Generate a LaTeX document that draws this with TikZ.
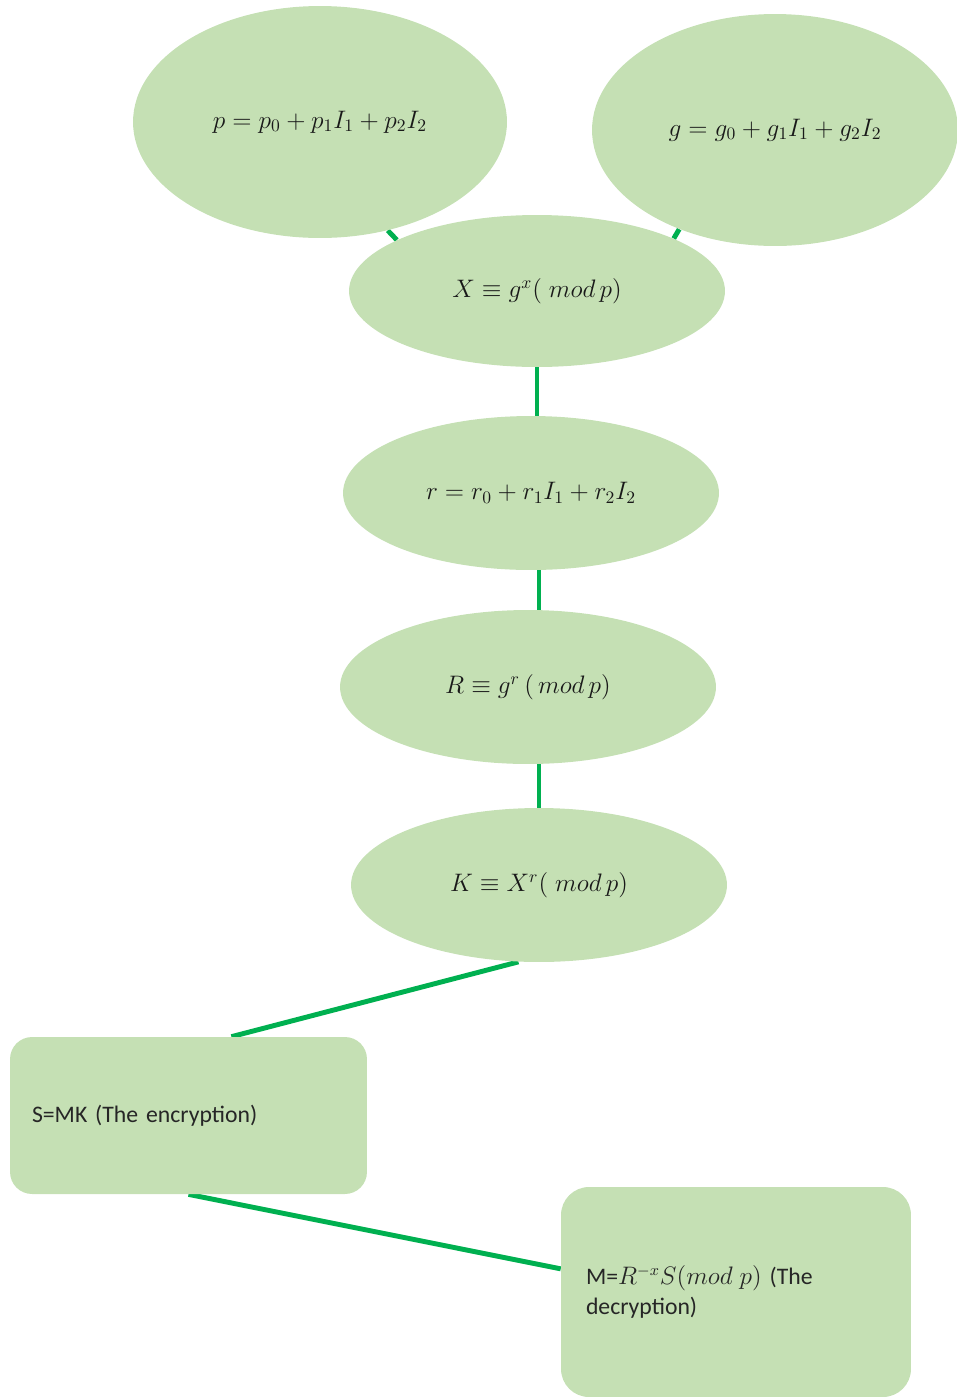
\documentclass[tikz,border=0pt]{standalone}
\usepackage{fontspec}
\setmainfont{Carlito}
\usepackage{xcolor}
\usetikzlibrary{shapes.geometric, calc, backgrounds}
\definecolor{leaf}{RGB}{197,224,180}
\definecolor{wire}{RGB}{0,176,80}
\tikzset{
  oval/.style  ={ellipse, fill=leaf, inner sep=0pt, text=black!90,
                 font=\fontsize{14.5}{18}\selectfont},
  card/.style  ={rectangle, fill=leaf, inner sep=0pt, align=left,
                 text=black!85, font=\fontsize{13.5}{17.5}\selectfont},
  link/.style  ={draw=wire, line width=2.8pt}
}

\begin{document}
\begin{tikzpicture}[x=0.02cm, y=-0.02cm]
\useasboundingbox (0,0) rectangle (957,1397);

% Parameters (top)
\node[oval, minimum width=7.48cm, minimum height=4.64cm] (pbase) at (320,122)
     {$p = p_0 + p_1 I_1 + p_2 I_2$};
\node[oval, minimum width=7.32cm, minimum height=4.64cm] (gbase) at (775,130)
     {$g = g_0 + g_1 I_1 + g_2 I_2$};

% Key chain
\node[oval, minimum width=7.52cm, minimum height=3.04cm] (pubx) at (537,291)
     {$X \equiv g^{x}(\;mod\,p)$};
\node[oval, minimum width=7.52cm, minimum height=3.08cm] (rexp) at (531,493)
     {$r = r_0 + r_1 I_1 + r_2 I_2$};
\node[oval, minimum width=7.52cm, minimum height=3.08cm] (pubr) at (528,687)
     {$R \equiv g^{r}\,(\,mod\,p)$};
\node[oval, minimum width=7.52cm, minimum height=3.08cm] (key)  at (539,885)
     {$K \equiv X^{r}(\;mod\,p)$};

% Encryption / decryption boxes
\node[card, rounded corners=0.44cm, minimum width=7.14cm, minimum height=3.14cm,
      text width=6.26cm] (enc) at (188.5,1115.5) {S=MK (The encryption)};
\node[card, rounded corners=0.56cm, minimum width=7.0cm, minimum height=4.2cm,
      text width=6.0cm] (dec) at (736,1292)
     {M=$R^{-x}S(mod\;p)$ (The\\decryption)};

% Connectors behind the shapes
\begin{scope}[on background layer]
  \draw[link] (pbase.-58) -- (pubx.160);
  \draw[link] (gbase.-134) -- (pubx.21);
  \draw[link] (pubx.center) -- (pubx.center |- rexp.center);
  \draw[link] (key.center |- rexp.center) -- (key.center |- pubr.center);
  \draw[link] (key.center |- pubr.center) -- (key.center);
  \draw[link] (key.-105) -- ($(enc.north west)!0.62!(enc.north east)$);
  \draw[link] (enc.south) -- ($(dec.north west)!0.39!(dec.south west)$);
\end{scope}
\end{tikzpicture}
\end{document}
